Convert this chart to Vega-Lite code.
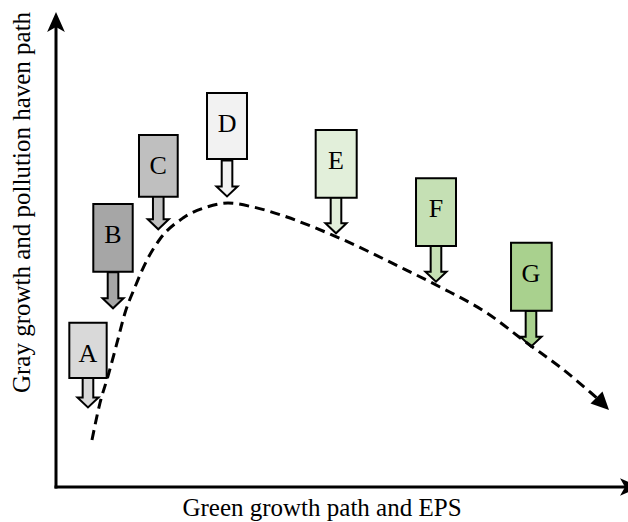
{
  "$schema": "https://vega.github.io/schema/vega-lite/v6.json",
  "width": 572,
  "height": 475,
  "autosize": {"type": "none"},
  "padding": {"left": 56, "top": 12, "right": 0, "bottom": 35},
  "background": "white",
  "config": {"view": {"stroke": null}, "font": "Liberation Serif"},
  "datasets": {
    "axes": [
      {"x": 0, "y": 0, "x2": 0, "y2": 97},
      {"x": 0, "y": 0, "x2": 100, "y2": 0}
    ],
    "yTip": [{"x": 0, "y": 100}],
    "xTip": [{"x": 102.1, "y": 0}],
    "boxes": [
      {"label": "A", "x1": 2.33, "x2": 8.86, "top": 34.59, "bottom": 22.95, "tx": 5.59, "ty": 16.74},
      {"label": "B", "x1": 6.52, "x2": 13.41, "top": 59.58, "bottom": 45.33, "tx": 9.97, "ty": 37.62},
      {"label": "C", "x1": 14.51, "x2": 21.28, "top": 74.11, "bottom": 61.12, "tx": 17.88, "ty": 54.25},
      {"label": "D", "x1": 26.4, "x2": 33.39, "top": 82.95, "bottom": 69.05, "tx": 29.9, "ty": 61.16},
      {"label": "E", "x1": 45.4, "x2": 52.57, "top": 75.16, "bottom": 60.91, "tx": 48.95, "ty": 53.41},
      {"label": "F", "x1": 62.94, "x2": 69.93, "top": 64.99, "bottom": 50.74, "tx": 66.43, "ty": 43.22},
      {"label": "G", "x1": 79.55, "x2": 86.66, "top": 51.43, "bottom": 37.12, "tx": 83.04, "ty": 29.54}
    ],
    "curve": [
      {"x": 6.29, "y": 9.89},
      {"x": 7.69, "y": 17.68},
      {"x": 9.09, "y": 23.37},
      {"x": 10.66, "y": 30.32},
      {"x": 12.06, "y": 36.63},
      {"x": 13.81, "y": 42.11},
      {"x": 15.91, "y": 47.79},
      {"x": 18.18, "y": 52.21},
      {"x": 22.2, "y": 56.63},
      {"x": 26.4, "y": 58.95},
      {"x": 30.07, "y": 59.79},
      {"x": 34.44, "y": 58.95},
      {"x": 40.38, "y": 56.84},
      {"x": 44.93, "y": 54.74},
      {"x": 49.13, "y": 52.63},
      {"x": 60.14, "y": 46.32},
      {"x": 67.13, "y": 42.11},
      {"x": 75.35, "y": 36.63},
      {"x": 82.34, "y": 30.32},
      {"x": 88.11, "y": 25.26},
      {"x": 93.36, "y": 20.0},
      {"x": 94.76, "y": 18.53}
    ],
    "curveEnd": [{"x": 96.68, "y": 16.21}],
    "xTitle": [{"t": "Green growth path and EPS", "x": 46.5, "y": -6.2}],
    "yTitle": [{"t": "Gray growth and pollution haven path", "x": -4.55, "y": 59.9}]
  },
  "layer": [
    {
      "data": {"name": "axes"},
      "mark": {"type": "rule", "stroke": "black", "strokeWidth": 3, "strokeCap": "square"},
      "encoding": {
        "x": {"field": "x", "type": "quantitative", "scale": {"domain": [0, 100], "nice": false, "zero": false}, "axis": null},
        "y": {"field": "y", "type": "quantitative", "scale": {"domain": [0, 100], "nice": false, "zero": false}, "axis": null},
        "x2": {"field": "x2"},
        "y2": {"field": "y2"}
      }
    },
    {
      "data": {"name": "yTip"},
      "mark": {"type": "point", "shape": "M0,0L0.885,2L0,1.5L-0.885,2Z", "size": 400, "filled": true, "fill": "black", "stroke": null, "opacity": 1},
      "encoding": {
        "x": {"field": "x", "type": "quantitative", "axis": null},
        "y": {"field": "y", "type": "quantitative", "axis": null}
      }
    },
    {
      "data": {"name": "xTip"},
      "mark": {"type": "point", "shape": "M0,0L-2,0.885L-1.5,0L-2,-0.885Z", "size": 400, "filled": true, "fill": "black", "stroke": null, "opacity": 1},
      "encoding": {
        "x": {"field": "x", "type": "quantitative", "axis": null},
        "y": {"field": "y", "type": "quantitative", "axis": null}
      }
    },
    {
      "data": {"name": "boxes"},
      "mark": {"type": "point", "shape": "M-0.59,-4L0.59,-4L0.59,-1.11L1.17,-1.11L0,0L-1.17,-1.11L-0.59,-1.11Z", "size": 324, "filled": true, "stroke": "black", "strokeWidth": 2, "opacity": 1, "strokeJoin": "miter"},
      "encoding": {
        "x": {"field": "tx", "type": "quantitative", "axis": null},
        "y": {"field": "ty", "type": "quantitative", "axis": null},
        "fill": {"field": "label", "type": "nominal", "legend": null, "scale": {"domain": ["A", "B", "C", "D", "E", "F", "G"], "range": ["#d9d9d9", "#a6a6a6", "#bfbfbf", "#f2f2f2", "#e2efda", "#c5e0b4", "#a9d18e"]}}
      }
    },
    {
      "data": {"name": "boxes"},
      "mark": {"type": "rect", "stroke": "black", "strokeWidth": 2},
      "encoding": {
        "x": {"field": "x1", "type": "quantitative", "axis": null},
        "x2": {"field": "x2"},
        "y": {"field": "top", "type": "quantitative", "axis": null},
        "y2": {"field": "bottom"},
        "fill": {"field": "label", "type": "nominal", "legend": null, "scale": {"domain": ["A", "B", "C", "D", "E", "F", "G"], "range": ["#d9d9d9", "#a6a6a6", "#bfbfbf", "#f2f2f2", "#e2efda", "#c5e0b4", "#a9d18e"]}}
      }
    },
    {
      "data": {"name": "boxes"},
      "mark": {"type": "text", "font": "Liberation Serif", "fontSize": 26, "dy": 39, "baseline": "alphabetic", "align": "center", "color": "black"},
      "encoding": {
        "x": {"field": "tx", "type": "quantitative", "axis": null},
        "y": {"field": "top", "type": "quantitative", "axis": null},
        "text": {"field": "label"}
      }
    },
    {
      "data": {"name": "curve"},
      "mark": {"type": "line", "stroke": "black", "strokeWidth": 3, "strokeDash": [10, 6], "interpolate": "monotone"},
      "encoding": {
        "x": {"field": "x", "type": "quantitative", "axis": null},
        "y": {"field": "y", "type": "quantitative", "axis": null}
      }
    },
    {
      "data": {"name": "curveEnd"},
      "mark": {"type": "point", "shape": "M0,0L-2,-0.96L-2,0.96Z", "size": 313, "angle": 45, "filled": true, "fill": "black", "stroke": null, "opacity": 1},
      "encoding": {
        "x": {"field": "x", "type": "quantitative", "axis": null},
        "y": {"field": "y", "type": "quantitative", "axis": null}
      }
    },
    {
      "data": {"name": "xTitle"},
      "mark": {"type": "text", "font": "Liberation Serif", "fontSize": 25, "baseline": "alphabetic", "align": "center", "color": "black"},
      "encoding": {
        "x": {"field": "x", "type": "quantitative", "axis": null},
        "y": {"field": "y", "type": "quantitative", "axis": null},
        "text": {"field": "t"}
      }
    },
    {
      "data": {"name": "yTitle"},
      "mark": {"type": "text", "font": "Liberation Serif", "fontSize": 25, "baseline": "alphabetic", "align": "center", "angle": 270, "color": "black"},
      "encoding": {
        "x": {"field": "x", "type": "quantitative", "axis": null},
        "y": {"field": "y", "type": "quantitative", "axis": null},
        "text": {"field": "t"}
      }
    }
  ]
}
